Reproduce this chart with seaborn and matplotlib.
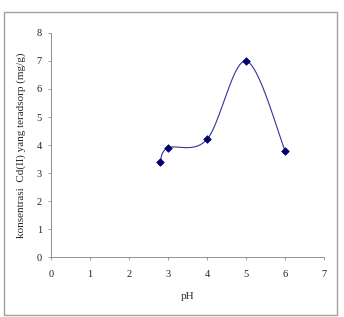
import numpy as np
import pandas as pd
import matplotlib
matplotlib.use("Agg")
import matplotlib.pyplot as plt
import seaborn as sns
from matplotlib.patches import Rectangle

# data
ph = [2.8, 3.0, 4.0, 5.0, 6.0]
cd_adsorbed = [3.4, 3.9, 4.2, 7.0, 3.8]
x_ticks = [0, 1, 2, 3, 4, 5, 6, 7]
y_ticks = [0, 1, 2, 3, 4, 5, 6, 7, 8]


def smooth_line(xs, ys, n=40):
    # excel style smoothed line: cubic bezier through the points
    p = np.column_stack([xs, ys]).astype(float)
    pts = []
    for i in range(len(p) - 1):
        p0 = p[i - 1] if i > 0 else p[i]
        p3 = p[i + 2] if i + 2 < len(p) else p[i + 1]
        c1 = p[i] + (p[i + 1] - p0) / 6.0
        c2 = p[i + 1] - (p3 - p[i]) / 6.0
        t = np.linspace(0, 1, n)[:, None]
        seg = ((1 - t) ** 3 * p[i] + 3 * (1 - t) ** 2 * t * c1
               + 3 * (1 - t) * t ** 2 * c2 + t ** 3 * p[i + 1])
        pts.append(seg if i == 0 else seg[1:])
    pts = np.vstack(pts)
    return pd.DataFrame({"pH": pts[:, 0], "cd": pts[:, 1]})


df = pd.DataFrame({"pH": ph, "cd": cd_adsorbed})
curve = smooth_line(ph, cd_adsorbed)

sns.set_style("white")
plt.rcParams["font.family"] = ["Liberation Serif", "DejaVu Serif"]

fig = plt.figure(figsize=(3.44, 3.17), dpi=100)
fig.patches.append(Rectangle((0.012, 0.006), 0.968, 0.956, transform=fig.transFigure,
                             fill=False, edgecolor="#a0a0a0", linewidth=1.0))
ax = fig.add_axes([0.148, 0.189, 0.794, 0.707])

sns.lineplot(data=curve, x="pH", y="cd", sort=False, estimator=None,
             color="#33339a", linewidth=0.8, ax=ax)
sns.scatterplot(data=df, x="pH", y="cd", marker="D", s=15, color="#000070",
                edgecolor="#000070", linewidth=0.5, ax=ax, zorder=3)

ax.set_xlim(0, 7)
ax.set_ylim(0, 8)
ax.set_xticks(x_ticks)
ax.set_yticks(y_ticks)
ax.tick_params(axis="both", labelsize=7.5, length=2.5, width=0.6, color="#909090",
               labelcolor="#222222", direction="out", pad=4)
ax.tick_params(axis="x", pad=7)
ax.xaxis.set_ticks_position("bottom")
ax.yaxis.set_ticks_position("left")
for side in ["top", "right"]:
    ax.spines[side].set_visible(False)
for side in ["left", "bottom"]:
    ax.spines[side].set_color("#909090")
    ax.spines[side].set_linewidth(0.7)

ax.set_xlabel("pH", fontsize=8, labelpad=9)
ax.set_ylabel("konsentrasi  Cd(II) yang teradsorp (mg/g)", fontsize=8, labelpad=8)

fig.savefig("out.png", dpi=100)
